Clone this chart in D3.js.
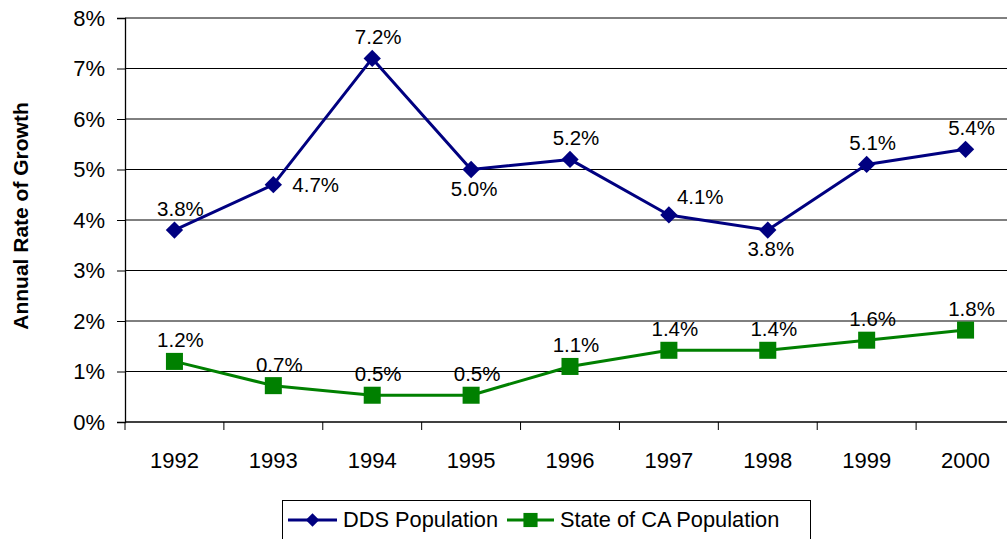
<!DOCTYPE html>
<html>
<head>
<meta charset="utf-8">
<script src="https://cdn.jsdelivr.net/npm/d3@7"></script>
<style>
  html, body { margin: 0; padding: 0; background: #fff; }
  svg { display: block; font-family: Arial, "Liberation Sans", sans-serif; }
</style>
</head>
<body>
<svg id="chart" width="1007" height="539"></svg>
<script>
const years = ["1992","1993","1994","1995","1996","1997","1998","1999","2000"];
const ddsValues = [3.8, 4.7, 7.2, 5.0, 5.2, 4.1, 3.8, 5.1, 5.4];
const caValues = [1.2, 0.72, 0.53, 0.53, 1.1, 1.42, 1.42, 1.62, 1.82];
const yTicks = [0, 1, 2, 3, 4, 5, 6, 7, 8];
const ddsLabelPlacement = ["above","right","above","below","above","aboveRight","below","above","above"];
const caLabelPlacement = ["above","above","above","above","above","above","above","above","above"];
const seriesNames = ["DDS Population", "State of CA Population"];
const yTitle = "Annual Rate of Growth";

(function() {
const svg = d3.select("#chart");
const pLeft = 125, pRight = 1015, pTop = 18, pBottom = 422;

const x = d3.scaleBand().domain(years).range([pLeft, pRight]).padding(0);
const y = d3.scaleLinear().domain([0, 8]).range([pBottom, pTop]);
const cx = d => x(d) + x.bandwidth() / 2;

// gridlines
svg.append("g").selectAll("line").data(yTicks.filter(t => t > 0)).join("line")
  .attr("x1", pLeft).attr("x2", pRight)
  .attr("y1", d => y(d)).attr("y2", d => y(d))
  .attr("stroke", "#000").attr("stroke-width", 1);

// y axis
const yAxis = d3.axisLeft(y).tickValues(yTicks).tickFormat(d => d + "%").tickSize(8).tickPadding(12);
const yg = svg.append("g").attr("transform", `translate(${pLeft},0)`).call(yAxis);
yg.select(".domain").attr("stroke", "#000").attr("stroke-width", 1.3);
yg.selectAll(".tick line").attr("stroke", "#000");
yg.selectAll(".tick text").attr("font-size", 22).attr("fill", "#000")
  .attr("font-family", "Arial, 'Liberation Sans', sans-serif");

// x axis line
svg.append("line").attr("x1", pLeft).attr("x2", pRight).attr("y1", pBottom).attr("y2", pBottom)
  .attr("stroke", "#000").attr("stroke-width", 1.3);
// x ticks between categories
const boundaries = years.map(d => x(d)).concat([pRight]);
svg.append("g").selectAll("line").data(boundaries).join("line")
  .attr("x1", d => d).attr("x2", d => d).attr("y1", pBottom).attr("y2", pBottom + 8)
  .attr("stroke", "#000").attr("stroke-width", 1);
svg.append("g").selectAll("text").data(years).join("text")
  .attr("x", d => cx(d)).attr("y", 468)
  .attr("text-anchor", "middle").attr("font-size", 22).attr("fill", "#000")
  .text(d => d);

// y title
svg.append("text")
  .attr("transform", `translate(28,${(pTop + pBottom) / 2 - 4}) rotate(-90)`)
  .attr("text-anchor", "middle").attr("font-size", 21).attr("font-weight", "bold")
  .attr("fill", "#000").text(yTitle);

const line = d3.line().x((d, i) => cx(years[i])).y(d => y(d));

function drawSeries(values, color, diamond, size, placements) {
  svg.append("path").datum(values).attr("d", line)
    .attr("fill", "none").attr("stroke", color).attr("stroke-width", 3)
    .attr("stroke-linejoin", "round");
  svg.append("g").selectAll("path").data(values).join("path")
    .attr("d", d3.symbol().type(d3.symbolSquare).size(size))
    .attr("transform", (d, i) => `translate(${cx(years[i])},${y(d)})` + (diamond ? " rotate(45)" : ""))
    .attr("fill", color);
  svg.append("g").selectAll("text").data(values).join("text")
    .attr("font-size", 20.5).attr("fill", "#000")
    .each(function(d, i) {
      const px = cx(years[i]), py = y(d), p = placements[i];
      const t = d3.select(this).text(d.toFixed(1) + "%");
      if (p === "above") t.attr("x", px + 6).attr("y", py - 14).attr("text-anchor", "middle");
      else if (p === "below") t.attr("x", px + 3).attr("y", py + 26).attr("text-anchor", "middle");
      else if (p === "right") t.attr("x", px + 19).attr("y", py + 7).attr("text-anchor", "start");
      else if (p === "aboveRight") t.attr("x", px + 8).attr("y", py - 11).attr("text-anchor", "start");
    });
}

drawSeries(ddsValues, "#000080", true, 150, ddsLabelPlacement);
drawSeries(caValues, "#008000", false, 290, caLabelPlacement);

// legend
const lg = svg.append("g");
lg.append("rect").attr("x", 282.5).attr("y", 500.5).attr("width", 528).attr("height", 60)
  .attr("fill", "#fff").attr("stroke", "#000").attr("stroke-width", 1);
const legendItems = [
  { name: seriesNames[0], color: "#000080", diamond: true, x1: 288, x2: 337, tx: 343 },
  { name: seriesNames[1], color: "#008000", diamond: false, x1: 507, x2: 554, tx: 560 }
];
legendItems.forEach(it => {
  lg.append("line").attr("x1", it.x1).attr("x2", it.x2).attr("y1", 520).attr("y2", 520)
    .attr("stroke", it.color).attr("stroke-width", 3);
  lg.append("path").attr("d", d3.symbol().type(d3.symbolSquare).size(it.diamond ? 90 : 200))
    .attr("transform", `translate(${(it.x1 + it.x2) / 2},520)` + (it.diamond ? " rotate(45)" : ""))
    .attr("fill", it.color);
  lg.append("text").attr("x", it.tx).attr("y", 527).attr("font-size", 21.8).attr("fill", "#000").text(it.name);
});
})();
</script>
</body>
</html>
